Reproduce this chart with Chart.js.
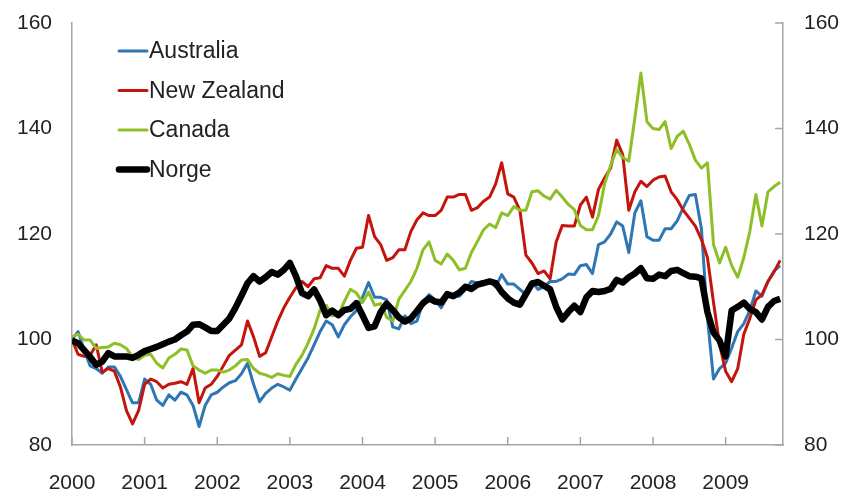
<!DOCTYPE html>
<html>
<head>
<meta charset="utf-8">
<script src="https://cdn.jsdelivr.net/npm/chart.js@4.4.1/dist/chart.umd.min.js"></script>
<style>
  html, body { margin: 0; padding: 0; background: #fff; }
  #wrap { width: 850px; height: 494px; }
</style>
</head>
<body>
<div id="wrap"><canvas id="chart" width="850" height="494"></canvas></div>
<script>
// monthly observations, Jan 2000 - Oct 2009 (index, 2000 = 100)
const australia = [
  100, 101.5, 98, 95, 94.5, 93.6, 94.8, 94.8, 93, 90.5, 88, 88,
  92.5, 91.5, 88.5, 87.5, 89.5, 88.5, 90, 89.5, 87.5, 83.5, 87.5, 89.5,
  90, 91, 91.8, 92.2, 93.5, 95.5, 91.5, 88.2, 89.8, 90.8, 91.5, 91,
  90.4, 92.5, 94.5, 96.5, 99, 101.5, 103.5, 102.8, 100.5, 102.8, 104.3, 105.5,
  108, 110.8, 108, 108, 107.5, 102.4, 102, 104.5, 103, 103.5, 107, 108.5,
  107.5, 106, 108, 108.5, 108.2, 109.5, 111, 110.7, 111, 111, 110, 112.3,
  110.5, 110.5, 109.5, 108.5, 111, 109.5, 110, 111, 111, 111.5, 112.4, 112.3,
  114, 114.2, 112.5, 118, 118.5, 120, 122.3, 121.5, 116.5, 124, 126.3, 119.5,
  118.8, 118.8, 121, 121, 122.5, 125, 127.3, 127.5, 121, 104, 92.5, 94.5,
  95.5, 98.4, 101.5, 103, 105.5, 109.2, 108.2, 111, 113, 114
];
const newZealand = [
  100, 97.2, 96.8, 97, 99, 93.8, 94.5, 94, 91, 86.5, 84, 86.5,
  91.5, 92.5, 92, 90.8, 91.5, 91.7, 92, 91.5, 94.5, 88, 90.8, 91.5,
  93, 95, 97, 98, 99, 103.5, 100.5, 96.8, 97.5, 100.5, 103.5, 106,
  108, 109.8, 111, 110, 111.5, 111.7, 114, 113.5, 113.5, 112, 115, 117.3,
  117.5, 123.5, 119.5, 118, 115, 115.5, 117, 117, 120.5, 122.7, 124, 123.5,
  123.5, 124.5, 127, 127, 127.5, 127.5, 124.5, 125, 126.2, 127, 129.5, 133.5,
  127.6, 127, 124.5, 116, 114.5, 112.5, 113, 111.5, 118.5, 121.6, 121.5, 121.5,
  125.5, 127, 123.2, 128.5, 130.6, 132.5, 137.8, 135, 124.5, 128, 130, 129,
  130.2, 130.8, 131, 128, 126.5, 124.5, 123, 121.5, 119, 115.5, 107, 99,
  94, 92, 94.5, 101, 104, 107.5, 108.5, 111, 112.8, 115
];
const canada = [
  100.5, 101, 99.9, 99.9, 98.3, 98.5, 98.6, 99.3, 99, 98.3, 96.7, 96.2,
  97, 97.2, 95.5, 94.6, 96.5, 97.2, 98.2, 98, 95, 94.2, 93.6, 94.2,
  94.2, 93.8, 94.2, 95, 96.1, 96.2, 94.5, 93.6, 93.3, 92.8, 93.5, 93.2,
  93, 95.3, 97, 99.3, 102, 105.6, 106.5, 104.5, 104.7, 107.2, 109.5, 108.8,
  107, 109, 106.5, 106.8, 104.2, 103.5, 107.6, 109.3, 111, 113.5, 117, 118.5,
  115, 114.3, 116.2, 115, 113.2, 113.5, 116.5, 118.6, 120.8, 121.9, 121.2, 124,
  123.5, 125.2, 124.5, 124.5, 128, 128.2, 127.2, 126.6, 128.3, 127, 125.6, 124.6,
  121.6, 120.8, 120.8, 123.5, 129.5, 133, 136, 134.5, 133.8, 142, 150.5, 141.3,
  140, 139.8, 141.3, 136.2, 138.5, 139.5, 137, 134, 132.5, 133.5, 118, 114.5,
  117.5, 114, 111.8, 115.5, 120.5, 127.5, 121.5, 128, 129, 129.8
];
const norge = [
  99.8, 99.3, 98, 96.7, 95.2, 95.8, 97.4, 96.8, 96.8, 96.8, 96.5, 97.1,
  97.8, 98.2, 98.6, 99.1, 99.6, 100, 100.8, 101.5, 102.8, 102.9, 102.3, 101.6,
  101.6, 102.8, 104, 106, 108.3, 110.7, 112, 111, 111.8, 112.8, 112.3, 113.2,
  114.5, 112, 108.8, 108.2, 109.5, 107.4, 104.6, 105.5, 104.6, 105.6, 105.8, 106.9,
  104.6, 102.2, 102.5, 105.2, 106.8, 105.6, 104.2, 103.4, 104, 105.4, 106.9, 107.8,
  107.2, 107, 108.6, 108.2, 108.9, 110, 109.6, 110.4, 110.7, 111, 110.7, 109,
  107.8, 107, 106.6, 108.6, 110.6, 110.9, 110.2, 109.5, 106.2, 103.8, 105.2, 106.4,
  105.2, 108, 109.2, 109, 109.2, 109.6, 111.3, 110.8, 111.8, 112.5, 113.5, 111.6,
  111.5, 112.3, 112, 113, 113.2, 112.6, 112, 111.9, 111.6, 105.2, 101.3, 99.8,
  96.8, 105.5, 106.2, 107, 105.8, 105.2, 103.8, 106.2, 107.3, 107.7
];
const yearLabels = ['2000', '2001', '2002', '2003', '2004', '2005', '2006', '2007', '2008', '2009'];
const yTicks = [80, 100, 120, 140, 160];

const dates = australia.map((_, i) => 2000 + i / 12);
const toPoints = arr => arr.map((v, i) => ({ x: dates[i], y: v }));

const axisColor = '#a6a6a6';
const textColor = '#222';
const fontFamily = '"Liberation Sans", Arial, sans-serif';

const series = [
  { label: 'Australia', data: australia, color: '#2f77b4', width: 3 },
  { label: 'New Zealand', data: newZealand, color: '#c4150c', width: 3 },
  { label: 'Canada', data: canada, color: '#8fbf26', width: 3 },
  { label: 'Norge', data: norge, color: '#000000', width: 6.5 }
];

// inward tick marks and the legend inside the plot
const frame = {
  id: 'frame',
  afterDraw(chart) {
    const { ctx, chartArea: a, scales } = chart;
    ctx.save();
    ctx.strokeStyle = axisColor;
    ctx.lineWidth = 1.5;
    ctx.beginPath();
    yearLabels.forEach(yr => {
      const px = scales.x.getPixelForValue(+yr);
      ctx.moveTo(px, a.bottom);
      ctx.lineTo(px, a.bottom - 8);
    });
    yTicks.forEach(v => {
      const py = scales.y2.getPixelForValue(v);
      ctx.moveTo(a.right, py);
      ctx.lineTo(a.right - 8, py);
    });
    ctx.stroke();

    ctx.font = '23px ' + fontFamily;
    ctx.textBaseline = 'middle';
    ctx.fillStyle = textColor;
    series.forEach((s, i) => {
      const ly = a.top + 28 + i * 39.5;
      ctx.strokeStyle = s.color;
      ctx.lineWidth = s.width;
      ctx.lineCap = 'round';
      ctx.beginPath();
      ctx.moveTo(a.left + 47, ly);
      ctx.lineTo(a.left + 75, ly);
      ctx.stroke();
      ctx.fillText(s.label, a.left + 77, ly + 1);
    });
    ctx.restore();
  }
};

const yAxis = (position, pad, width) => ({
  position,
  min: 80,
  max: 160,
  grid: { display: false, drawTicks: false, tickLength: 0 },
  border: { display: true, color: axisColor, width: 1.5 },
  ticks: { stepSize: 20, padding: pad, color: textColor, font: { size: 21, family: fontFamily } },
  afterFit(scale) {
    scale.width = width;
    scale.paddingTop = 0;
    scale.paddingBottom = 0;
  }
});

new Chart(document.getElementById('chart'), {
  type: 'line',
  data: {
    datasets: series.map((s, i) => ({
      label: s.label,
      data: toPoints(s.data),
      borderColor: s.color,
      backgroundColor: s.color,
      borderWidth: s.width,
      pointRadius: 0,
      tension: 0,
      borderJoinStyle: 'round',
      order: i === 3 ? 0 : 4 - i
    }))
  },
  options: {
    responsive: false,
    animation: false,
    devicePixelRatio: 1,
    layout: { padding: { top: 23, left: 0, right: 0, bottom: 0 } },
    plugins: { legend: { display: false }, tooltip: { enabled: false } },
    scales: {
      x: {
        type: 'linear',
        min: 2000,
        max: 2009.79,
        grid: { display: false, drawTicks: false, tickLength: 0 },
        border: { display: true, color: axisColor, width: 1.5 },
        ticks: {
          stepSize: 1,
          includeBounds: false,
          autoSkip: false,
          maxRotation: 0,
          padding: 26,
          color: textColor,
          font: { size: 21, family: fontFamily },
          callback: v => Number.isInteger(v) ? (yearLabels[v - 2000] || '') : ''
        },
        afterFit(scale) { scale.height = 49; }
      },
      y: yAxis('left', 20, 72),
      y2: yAxis('right', 21, 67)
    }
  },
  plugins: [frame]
});
</script>
</body>
</html>
